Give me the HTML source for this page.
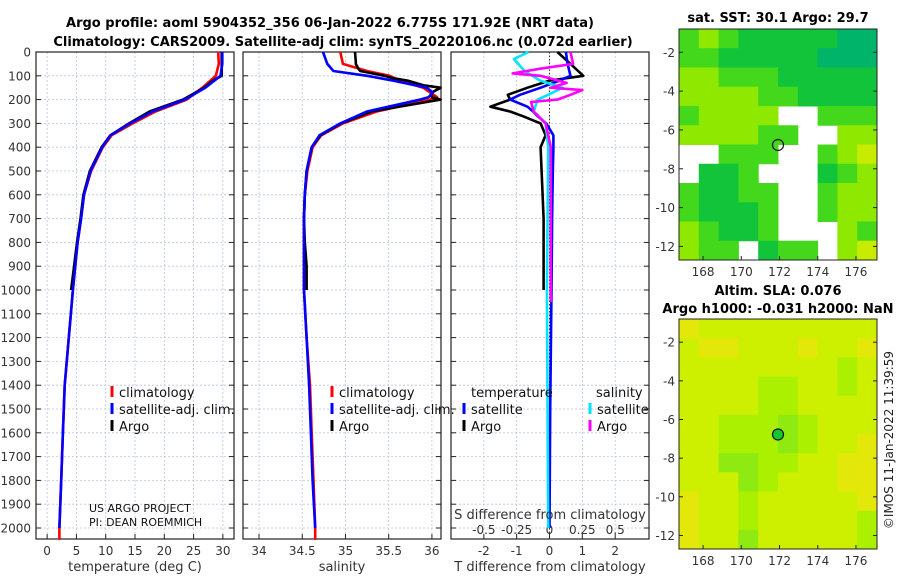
<!DOCTYPE html>
<html><head><meta charset="utf-8"><style>
body{margin:0;background:#fff;}
svg{display:block;font-family:"DejaVu Sans","Liberation Sans",sans-serif;}
</style></head><body>
<svg id="fig" width="900" height="580" viewBox="0 0 900 580" xmlns="http://www.w3.org/2000/svg">
<text x="330" y="27" font-size="13" font-weight="bold" text-anchor="middle">Argo profile: aoml 5904352_356 06-Jan-2022 6.775S 171.92E (NRT data)</text>
<text x="343" y="46" font-size="13" font-weight="bold" text-anchor="middle">Climatology: CARS2009. Satellite-adj clim: synTS_20220106.nc (0.072d earlier)</text>
<text x="778" y="22" font-size="13" font-weight="bold" text-anchor="middle">sat. SST: 30.1 Argo: 29.7</text>
<text x="778" y="295" font-size="13" font-weight="bold" text-anchor="middle">Altim. SLA: 0.076</text>
<text x="778" y="313" font-size="13" font-weight="bold" text-anchor="middle">Argo h1000: -0.031 h2000: NaN</text>
<text transform="translate(893,440) rotate(-90)" font-size="12" text-anchor="middle" fill="#222">©IMOS 11-Jan-2022 11:39:59</text>
<g id="layer"></g>
</svg>
<script>
// ---- profile data ----
const tDepth = [0,50,100,150,200,250,300,350,400,500,600,700,800,900,1000,1200,1400,1600,1800,2000,2050];
const tClim  = [29.2,29.3,28.8,26.5,23.8,18.5,14.6,11,9.5,7.5,6.3,5.8,5.2,4.8,4.4,3.7,3.0,2.7,2.4,2.1,2.1];
const tSat   = [29.9,29.9,29.6,27,23.5,18,14.2,10.8,9.4,7.4,6.3,5.8,5.2,4.8,4.4,3.7,3.0,2.7,2.4,2.1];
const tArgoDepth = [0,50,100,120,150,200,250,300,350,400,500,600,700,800,900,1000];
const tArgo  = [29.8,29.8,29.8,28.3,26.8,23.2,17.5,14,10.8,9.3,7.3,6.2,5.7,5.1,4.6,4.1];
const sDepth = [0,50,80,100,120,150,170,190,200,250,300,350,400,500,600,700,800,900,1000,1200,1400,1600,1800,2000,2050];
const sClim  = [34.94,34.97,35.25,35.51,35.63,35.9,35.98,36.06,35.98,35.36,34.97,34.72,34.62,34.56,34.53,34.52,34.52,34.52,34.52,34.55,34.59,34.61,34.63,34.65,34.65];
const sSat   = [34.74,34.79,34.86,35.25,35.55,35.94,36.01,35.96,35.86,35.25,34.94,34.7,34.61,34.55,34.53,34.52,34.52,34.52,34.52,34.55,34.58,34.6,34.62,34.65];
const sArgoDepth = [0,40,50,70,80,100,110,120,140,150,170,190,200,250,300,350,400,500,600,700,800,900,1000];
const sArgo  = [35.11,35.12,35.12,35.15,35.17,35.45,35.55,35.72,35.9,36.1,36.0,36.0,36.1,35.3,34.95,34.71,34.61,34.55,34.53,34.52,34.53,34.55,34.55];
const dDepth = [0,50,100,120,150,180,200,230,250,270,300,350,400,500,700,1000,1500,2000];
const dTsat  = [0.5,0.55,0.64,0.3,-0.27,-0.9,-1.2,-0.67,-0.5,-0.36,-0.1,0.12,0.12,0.1,0.08,0.06,0.02,0];
const dTargo = [0.24,0.64,1.03,0,-0.67,-1.27,-1.2,-1.8,-1.2,-0.8,-0.27,-0.12,-0.27,-0.24,-0.18,-0.18];
const mDepth = [0,50,70,90,100,130,150,160,180,200,210,250,300,400,1000,1050];
const dSargo = [0.16,0.18,-0.07,-0.28,-0.07,0.13,0.01,0.25,0.16,0.06,-0.14,-0.12,-0.03,0.01,0.01,0.01];
const cDepth = [0,30,80,120,150,180,200,250,300,400,1000,2000];
const dSsat  = [-0.16,-0.27,-0.19,-0.07,0.10,-0.01,-0.09,-0.12,-0.03,-0.01,-0.02,-0.01];
const depthTicks = [0,100,200,300,400,500,600,700,800,900,1000,1100,1200,1300,1400,1500,1600,1700,1800,1900,2000];
const tTicks = [0,5,10,15,20,25,30];
const sTicks = [34,34.5,35,35.5,36];
const dTTicks = [-2,-1,0,1,2];
const dSTicks = [-0.5,-0.25,0,0.25,0.5];
const dSTickLabels = ["-0.5","-0.25","0","0.25","0.5"];
// ---- map data (coarse grids, chars = colour class) ----
const sstRows = ["cdcbbbbbaa","ccbbbbbaaa","ddcccbbbbb","ddddccbbbb","cdddd..ccc","ddddcc..dd","..ccc..cde",".bbc...bcd","cbbcc..cdd","cbbbc..cdd","dcbbc...dc","dcc.bcc.de"];
const slaRows = ["oyyyyyyyyy","yooyyyoyyo","yyyyyyyygy","yyyyggyygy","yyyyggyyyy","yygggGgyyy","yygggGgyyo","yyGGggyyoo","yyyGgyyyoo","oyygyyyyyo","oyygyyyyyg","oyyGyyyyyg"];
const sstColors = {a:"#00b46a",b:"#12c43a",c:"#44d81c",d:"#8ee800",e:"#c8ec00"};
const slaColors = {o:"#e4e80a",y:"#ccf000",g:"#aaf000",G:"#8eea10"};
const lonTicks = [168,170,172,174,176];
const latTicks = [-2,-4,-6,-8,-10,-12];
const argoLon = 171.92, argoLat = -6.775;

const NS="http://www.w3.org/2000/svg";
const layer=document.getElementById('layer');
function mk(tag,attrs,parent){const e=document.createElementNS(NS,tag);for(const k in attrs)e.setAttribute(k,attrs[k]);(parent||layer).appendChild(e);return e;}
const Y0=52, YS=0.238;
const yD=d=>Y0+d*YS;
const panels=[
 {x0:36,x1:234,min:-1.9,max:31.9,name:'temperature'},
 {x0:243,x1:441,min:33.815,max:36.105,name:'salinity'},
 {x0:451,x1:649,min:-3.0,max:3.03,name:'difference'}];
const xs=p=>v=>p.x0+(v-p.min)/(p.max-p.min)*(p.x1-p.x0);
const yBot=539;
function frame(p,ticksX,labels,name){
  const g=mk('g',{});
  
  
  const sx=xs(p);
  ticksX.forEach(v=>{const x=sx(v);mk('line',{x1:x,x2:x,y1:Y0,y2:yBot,stroke:'#b8c4e8','stroke-width':0.8,'stroke-dasharray':'2,2'},g);});
  depthTicks.forEach(d=>{const y=yD(d);mk('line',{x1:p.x0,x2:p.x1,y1:y,y2:y,stroke:'#b8c4e8','stroke-width':0.8,'stroke-dasharray':'2,2'},g);
    mk('line',{x1:p.x0,x2:p.x0+5,y1:y,y2:y,stroke:'#222'},g);mk('line',{x1:p.x1-5,x2:p.x1,y1:y,y2:y,stroke:'#222'},g);});
  ticksX.forEach((v,i)=>{const x=sx(v);mk('line',{x1:x,x2:x,y1:yBot,y2:yBot-5,stroke:'#222'},g);
    if(labels){const t=mk('text',{x:x,y:555,'font-size':12,'text-anchor':'middle',fill:'#333'},g);t.textContent=labels[i];}});
  mk('rect',{x:p.x0,y:Y0,width:p.x1-p.x0,height:yBot-Y0,fill:'none',stroke:'#222','stroke-width':1.2},g);
}
function line(p,depths,vals,color,name,scale){
  const sx=xs(p);const k=scale||1;
  const pts=vals.map((v,i)=>sx(v*k).toFixed(1)+','+yD(depths[i]).toFixed(1)).join(' ');
  const e=mk('polyline',{points:pts,fill:'none',stroke:color,'stroke-width':2.6,'stroke-linejoin':'round'});
  
  
}
frame(panels[0],tTicks,tTicks.map(String),'temperature');
frame(panels[1],sTicks,sTicks.map(String),'salinity');
frame(panels[2],dTTicks,dTTicks.map(String),'difference');
// depth labels
depthTicks.forEach(d=>{const t=mk('text',{x:31,y:yD(d)+4.5,'font-size':12,'text-anchor':'end',fill:'#333'});t.textContent=String(d);});
// S-difference ticks inside panel 3 (4x scale of T)
dSTicks.forEach((v,i)=>{const x=xs(panels[2])(v*4);const t=mk('text',{x:x,y:534,'font-size':12,'text-anchor':'middle',fill:'#333'});t.textContent=dSTickLabels[i];});
// zero line
{const x=xs(panels[2])(0);const z=mk('line',{x1:x,x2:x,y1:Y0,y2:yBot,stroke:'#333','stroke-width':1,'stroke-dasharray':'1.5,2'});}
line(panels[0],tDepth,tClim,'#ff0000','temperature-climatology-line');
line(panels[0],tArgoDepth,tArgo,'#000000','temperature-argo-line');
line(panels[0],tDepth.slice(0,tSat.length),tSat,'#0000ff','temperature-satellite-line');
line(panels[1],sDepth,sClim,'#ff0000','salinity-climatology-line');
line(panels[1],sArgoDepth,sArgo,'#000000','salinity-argo-line');
line(panels[1],sDepth.slice(0,sSat.length),sSat,'#0000ff','salinity-satellite-line');
line(panels[2],dDepth.slice(0,dTargo.length),dTargo,'#000000','t-diff-argo-line');
line(panels[2],dDepth,dTsat,'#0000ff','t-diff-satellite-line');
line(panels[2],cDepth,dSsat,'#00e5ff','s-diff-satellite-line',4);
line(panels[2],mDepth,dSargo,'#ff00ff','s-diff-argo-line',4);
// axis labels
[['temperature (deg C)',135,'temperature-axis-title'],['salinity',342,'salinity-axis-title'],['T difference from climatology',550,'t-diff-axis-title']].forEach(a=>{
 const t=mk('text',{x:a[1],y:571,'font-size':13,'text-anchor':'middle',fill:'#333'});t.textContent=a[0];});
{const t=mk('text',{x:550,y:519,'font-size':13,'text-anchor':'middle',fill:'#333'});t.textContent='S difference from climatology';}
// legends
function leg(x,y,color,label,name){const g=mk('g',{});
 mk('line',{x1:x,x2:x,y1:y-11,y2:y,stroke:color,'stroke-width':3},g);
 const t=mk('text',{x:x+7,y:y,'font-size':13,fill:'#111'},g);t.textContent=label;}
leg(112,397,'#ff0000','climatology','legend-climatology');
leg(112,414,'#0000ff','satellite-adj. clim.','legend-satellite-adj');
leg(112,431,'#000000','Argo','legend-argo');
leg(332,397,'#ff0000','climatology','legend-climatology-s');
leg(332,414,'#0000ff','satellite-adj. clim.','legend-satellite-adj-s');
leg(332,431,'#000000','Argo','legend-argo-s');
{const t=mk('text',{x:471,y:397,'font-size':13,fill:'#111'});t.textContent='temperature';}
{const t=mk('text',{x:596,y:397,'font-size':13,fill:'#111'});t.textContent='salinity';}
leg(464,414,'#0000ff','satellite','legend-t-satellite');
leg(464,431,'#000000','Argo','legend-t-argo');
leg(590,414,'#00e5ff','satellite','legend-s-satellite');
leg(590,431,'#ff00ff','Argo','legend-s-argo');
{const t=mk('text',{x:89,y:512,'font-size':11,fill:'#111'});t.textContent='US ARGO PROJECT';
 const t2=mk('text',{x:89,y:526,'font-size':11,fill:'#111'});t2.textContent='PI: DEAN ROEMMICH';}
// maps
function map(m,rows,colors,name){
  const lx=v=>m.x0+(v-m.lon0)/(m.lon1-m.lon0)*(m.x1-m.x0);
  const ly=v=>m.y0+(m.lat0-v)/(m.lat0-m.lat1)*(m.y1-m.y0);
  const g=mk('g',{});
  const nr=rows.length,nc=rows[0].length,cw=(m.x1-m.x0)/nc,ch=(m.y1-m.y0)/nr;
  rows.forEach((r,i)=>{[...r].forEach((c,j)=>{if(colors[c]){const e=mk('rect',{x:m.x0+j*cw,y:m.y0+i*ch,width:cw+0.5,height:ch+0.5,fill:colors[c]},g);}});});
  mk('rect',{x:m.x0,y:m.y0,width:m.x1-m.x0,height:m.y1-m.y0,fill:'none',stroke:'#222','stroke-width':1},g);
  lonTicks.forEach(v=>{const x=lx(v);mk('line',{x1:x,x2:x,y1:m.y1,y2:m.y1-4,stroke:'#222'},g);const t=mk('text',{x:x,y:m.y1+16,'font-size':12,'text-anchor':'middle',fill:'#333'},g);t.textContent=String(v);});
  latTicks.forEach(v=>{const y=ly(v);mk('line',{x1:m.x0,x2:m.x0+4,y1:y,y2:y,stroke:'#222'},g);mk('line',{x1:m.x1,x2:m.x1-4,y1:y,y2:y,stroke:'#222'},g);const t=mk('text',{x:m.x0-4,y:y+4.5,'font-size':12,'text-anchor':'end',fill:'#333'},g);t.textContent=String(v);});
  const c=mk('circle',{cx:lx(argoLon),cy:ly(argoLat),r:5.5,fill:m.fill,stroke:'#111','stroke-width':1.2},g);
  
  
}
map({x0:679,x1:877,y0:29,y1:260,lon0:166.74,lon1:177.1,lat0:-0.8,lat1:-12.7,fill:'none'},sstRows,sstColors,'sst-map');
map({x0:679,x1:877,y0:319,y1:549,lon0:166.74,lon1:177.1,lat0:-0.8,lat1:-12.7,fill:'#10c830'},slaRows,slaColors,'sla-map');
</script>
</body></html>
